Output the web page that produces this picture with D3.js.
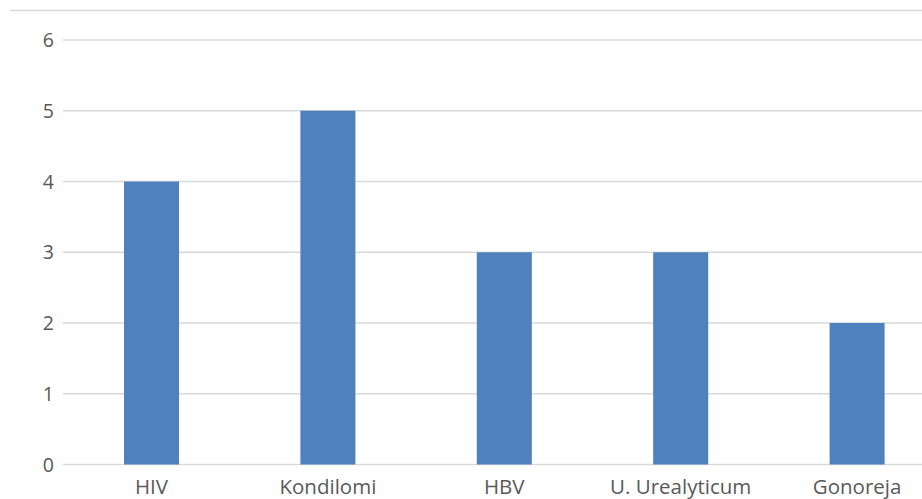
<!DOCTYPE html>
<html><head><meta charset="utf-8">
<script src="https://d3js.org/d3.v7.min.js"></script>
<style>body{margin:0;background:#fff;} text{font-family:"Open Sans",sans-serif;}</style>
</head><body><div id="chart"></div>
<script>
const categories = ["HIV", "Kondilomi", "HBV", "U. Urealyticum", "Gonoreja"];
const values = [4, 5, 3, 3, 2];
const yTicks = [0, 1, 2, 3, 4, 5, 6];

const W = 922, H = 499;
const svg = d3.select("#chart").append("svg").attr("width", W).attr("height", H);

// chart border (top line visible)
svg.append("line").attr("x1", 10).attr("x2", W).attr("y1", 10.5).attr("y2", 10.5)
  .attr("stroke", "#d9d9d9").attr("stroke-width", 1.5);

const x = d3.scaleBand().domain(categories).range([63.3, 945.3]).paddingInner(0.688).paddingOuter(0.344);
const y = d3.scaleLinear().domain([0, 6]).range([464.5, 40]);

const g = svg.append("g");
g.selectAll(".grid").data(yTicks).join("line")
  .attr("x1", 63).attr("x2", W)
  .attr("y1", d => y(d)).attr("y2", d => y(d))
  .attr("stroke", "#d9d9d9").attr("stroke-width", 1.3);

g.selectAll(".bar").data(values).join("rect")
  .attr("x", (d, i) => x(categories[i]))
  .attr("width", x.bandwidth())
  .attr("y", d => y(d))
  .attr("height", d => y(0) - y(d))
  .attr("fill", "#4f81bd");

g.selectAll(".ylab").data(yTicks).join("text")
  .attr("x", 54).attr("y", d => y(d)).attr("dy", "0.36em")
  .attr("text-anchor", "end").attr("fill", "#595959").attr("font-size", 19.5)
  .text(d => d);

g.selectAll(".xlab").data(categories).join("text")
  .attr("x", d => x(d) + x.bandwidth() / 2).attr("y", 494)
  .attr("text-anchor", "middle").attr("fill", "#595959").attr("font-size", 20.5)
  .text(d => d);
</script></body></html>
